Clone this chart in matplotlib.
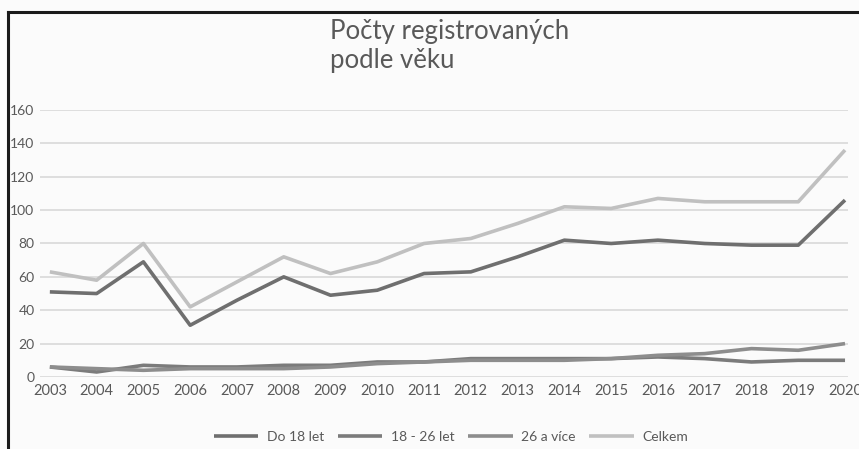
import matplotlib
matplotlib.use("Agg")
import matplotlib.pyplot as plt
from matplotlib.lines import Line2D

plt.rcParams['font.family'] = ['Lato', 'DejaVu Sans']

# data
years = list(range(2003, 2021))
do18 = [51, 50, 69, 31, 46, 60, 49, 52, 62, 63, 72, 82, 80, 82, 80, 79, 79, 106]
od18do26 = [6, 3, 7, 6, 6, 7, 7, 9, 9, 11, 11, 11, 11, 12, 11, 9, 10, 10]
nad26 = [6, 5, 4, 5, 5, 5, 6, 8, 9, 10, 10, 10, 11, 13, 14, 17, 16, 20]
celkem = [63, 58, 80, 42, 57, 72, 62, 69, 80, 83, 92, 102, 101, 107, 105, 105, 105, 136]

labels = ['Do 18 let', '18 - 26 let', '26 a více', 'Celkem']
colors = ['#6f6f6f', '#7b7b7b', '#8d8d8d', '#c0c0c0']
series = [do18, od18do26, nad26, celkem]

fig = plt.figure(figsize=(8.59, 4.49), dpi=100)
fig.patch.set_facecolor('#fbfbfb')
ax = fig.add_axes([0.0466, 0.1604, 0.9404, 0.5946])
ax.set_facecolor('#fbfbfb')

for s, lab, c in zip(series, labels, colors):
    ax.plot(years, s, color=c, lw=2.6, label=lab, solid_capstyle='butt')

ax.set_xlim(2002.79, 2020.06)
ax.set_ylim(0, 160)
ax.set_yticks(range(0, 161, 20))
ax.set_xticks(years)
ax.grid(axis='y', color='#d9d9d9', lw=1.2)
ax.set_axisbelow(True)
for sp in ax.spines.values():
    sp.set_visible(False)
ax.tick_params(axis='both', length=0, colors='#595959')
ax.tick_params(axis='y', labelsize=10, pad=4)
ax.tick_params(axis='x', labelsize=10.5, pad=5)

fig.text(0.384, 0.958, 'Počty registrovaných\npodle věku', ha='left', va='top',
         fontsize=18.5, color='#595959', linespacing=1.2)

fig.legend(loc='center', bbox_to_anchor=(0.525, 0.027), ncol=4, frameon=False,
           fontsize=10, labelcolor='#595959', handlelength=3.2, columnspacing=1.0,
           handletextpad=0.6)

# black frame on the left and top edges of the cropped image
fig.add_artist(Line2D([0.009, 0.009], [0.0, 0.974], color='#1a1a1a', lw=2.2))
fig.add_artist(Line2D([0.009, 1.0], [0.974, 0.974], color='#1a1a1a', lw=2.2))

fig.savefig('out.png', dpi=100, facecolor=fig.get_facecolor())
